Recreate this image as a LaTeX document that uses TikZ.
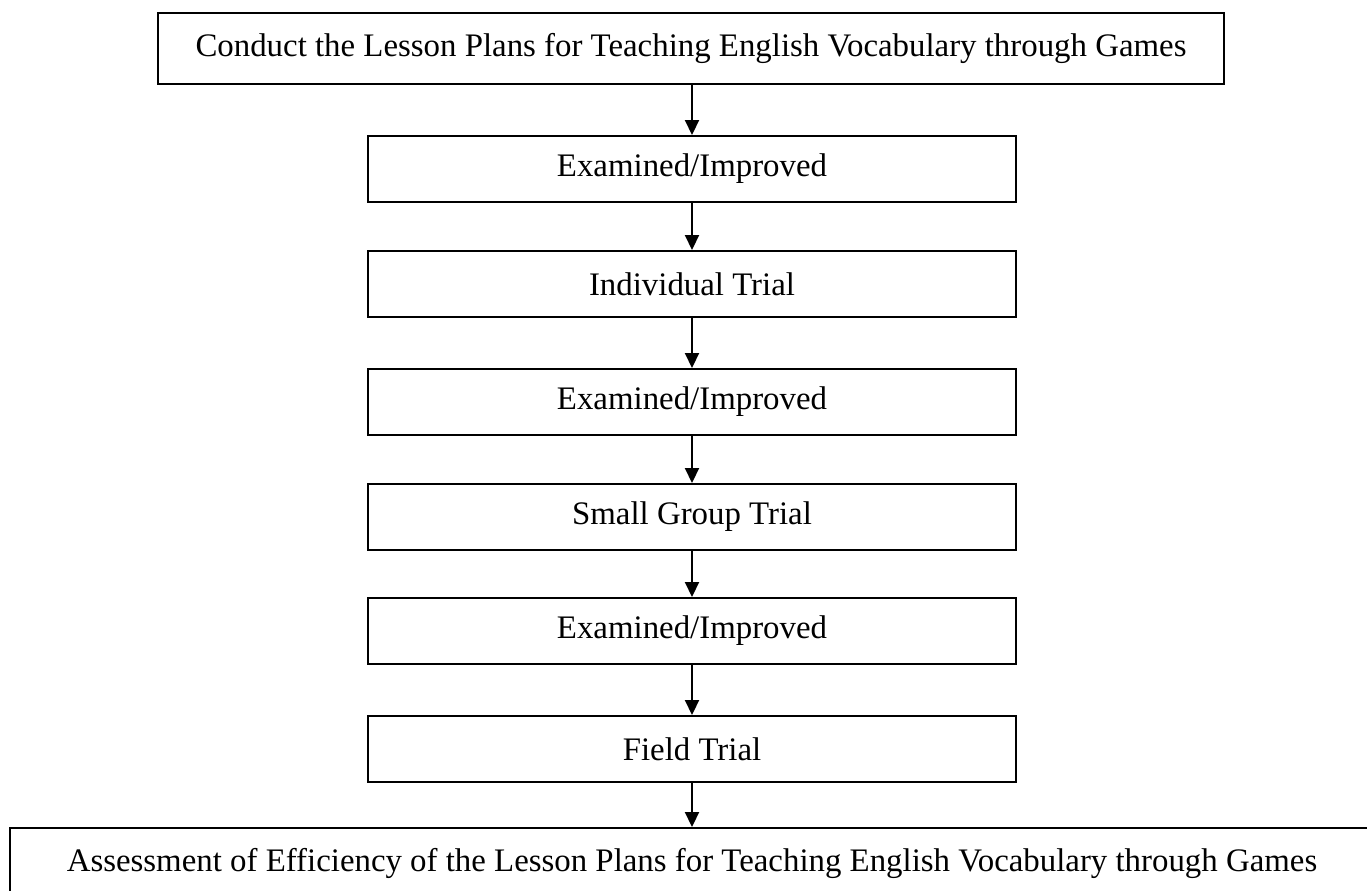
\documentclass[tikz,border=0pt]{standalone}
\usepackage{fontspec}
\setmainfont{Liberation Serif}
\usetikzlibrary{arrows.meta}

\begin{document}
\begin{tikzpicture}
        \tikzset{every node/.style={font=\fontsize{18.7}{22}\selectfont},
            stepbox/.style={draw,line width=1.1pt,inner sep=0pt,
                minimum width=12.96cm,minimum height=1.32cm},
            widebox/.style={stepbox,minimum height=1.42cm},
            flow/.style={draw,line width=1.1pt,-{Triangle[width=0.28cm,length=0.3cm]}}}
        \useasboundingbox (0,0) rectangle (27.34,-17.82);
        \node[widebox,minimum width=21.32cm] (conduct) at (13.82,-0.97)
            {Conduct the Lesson Plans for Teaching English Vocabulary through Games};
        \node[stepbox] (exam1) at (13.84,-3.38) {Examined/Improved};
        \node[stepbox] (indiv) at (13.84,-5.68) {Individual Trial};
        \node[stepbox] (exam2) at (13.84,-8.04) {Examined/Improved};
        \node[stepbox] (small) at (13.84,-10.34) {Small Group Trial};
        \node[stepbox] (exam3) at (13.84,-12.62) {Examined/Improved};
        \node[stepbox] (field) at (13.84,-14.98) {Field Trial};
        \node[widebox,minimum width=27.28cm,minimum height=1.40cm] (assess) at (13.84,-17.26)
            {Assessment of Efficiency of the Lesson Plans for Teaching English Vocabulary through Games};
        \foreach \a/\b in {conduct/exam1,exam1/indiv,indiv/exam2,exam2/small,small/exam3,exam3/field,field/assess}
            \draw[flow] (\a.south -| exam1.south) -- (\b.north -| exam1.south);
    \end{tikzpicture}
\end{document}
